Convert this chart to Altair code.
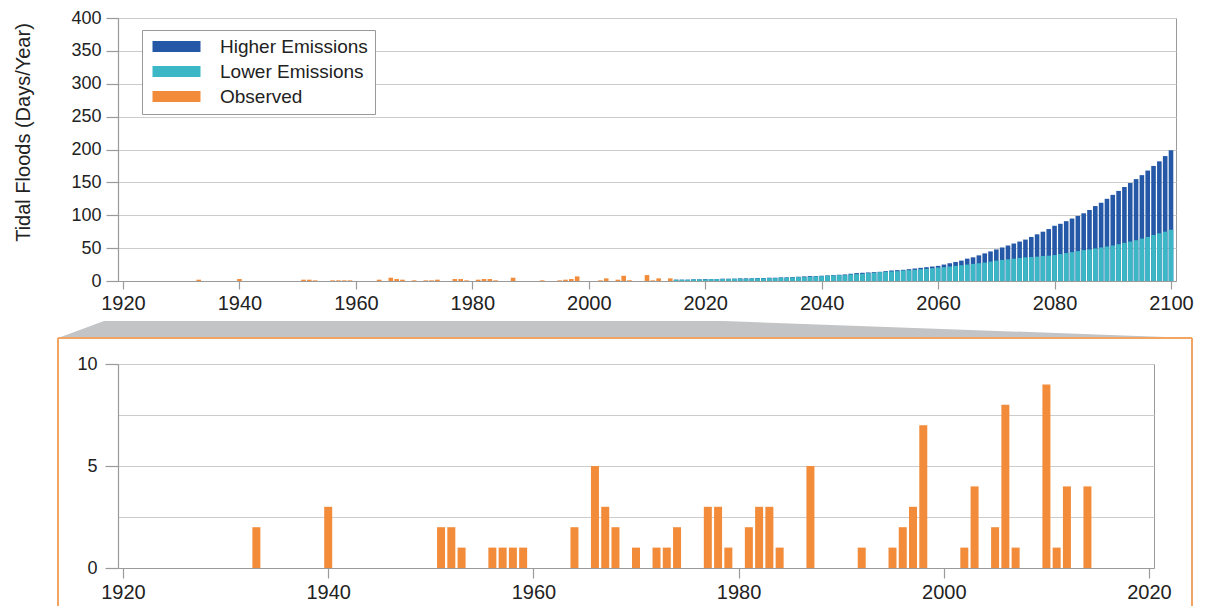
import altair as alt
import pandas as pd

# ---------------- data ----------------
obs_years = [1933, 1940, 1951, 1952, 1953, 1956, 1957, 1958, 1959, 1964,
             1966, 1967, 1968, 1970, 1972, 1973, 1974, 1977, 1978, 1979,
             1981, 1982, 1983, 1984, 1987, 1992, 1995, 1996, 1997, 1998,
             2002, 2003, 2005, 2006, 2007, 2010, 2011, 2012, 2014]
obs_days = [2, 3, 2, 2, 1, 1, 1, 1, 1, 2,
            5, 3, 2, 1, 1, 1, 2, 3, 3, 1,
            2, 3, 3, 1, 5, 1, 1, 2, 3, 7,
            1, 4, 2, 8, 1, 9, 1, 4, 4]

proj_years = list(range(2015, 2101))
higher_days = [2, 2, 2, 2.5, 2.5, 3, 3, 3, 3.5, 3.5,
               3.5, 4, 4, 4, 4.5, 4.5, 5, 5, 5.5, 5.5,
               6, 6.5, 7, 7.5, 7.5, 8, 8.5, 9, 9.5, 10,
               11, 12, 12.5, 13, 13.5, 14, 15, 16, 16.5, 17,
               18, 19, 20, 21, 22, 23, 25, 27, 29, 31,
               34, 36, 39, 42, 45, 48, 51, 54, 57, 60,
               63, 67, 71, 75, 79, 84, 87, 91, 95, 99,
               103, 108, 114, 119, 125, 131, 137, 143, 149, 155,
               161, 168, 175, 182, 190, 199]
lower_days = [2, 2, 2, 2.5, 2.5, 2.5, 3, 3, 3, 3,
              3.5, 3.5, 3.5, 4, 4, 4, 4.5, 4.5, 5, 5,
              5.5, 6, 6, 6.5, 7, 7.5, 8, 8.5, 9, 9,
              10, 10.5, 11, 12, 12.5, 13.5, 14, 14.5, 15, 16,
              16.5, 17, 18, 18.5, 19.5, 20.5, 21, 22, 23, 24,
              25, 26, 27, 28, 29.5, 31, 32, 33, 34, 35,
              36, 36.5, 37, 38, 38.5, 39.5, 41, 42.5, 44, 45.5,
              47, 48, 49.5, 51, 52.5, 54, 56, 58, 60, 62,
              64.5, 67, 70, 72.5, 75, 78]

series_names = ["Higher Emissions", "Lower Emissions", "Observed"]
series_colors = ["#2559a7", "#3bb7c5", "#f28c3a"]

top_x_ticks = list(range(1920, 2101, 20))
top_y_ticks = list(range(0, 401, 50))
bot_x_ticks = list(range(1920, 2021, 20))
bot_y_grid = [0, 2.5, 5, 7.5, 10]

# ---------------- geometry ----------------
TOP_W, TOP_H = 1058, 263
BOT_W, BOT_H = 1036, 204
CONN_TOP, BORDER_TOP = -43, -26
BORDER_L, BORDER_R, BORDER_B = -60, BOT_W + 38, 242

FONT = "Liberation Sans"
TXT = "#222222"
AX = "#9a9a9a"
GRID = "#cccccc"

# ---------------- top chart ----------------
top_df = pd.concat([
    pd.DataFrame({"year": proj_years, "days": higher_days, "series": series_names[0]}),
    pd.DataFrame({"year": proj_years, "days": lower_days, "series": series_names[1]}),
    pd.DataFrame({"year": obs_years, "days": obs_days, "series": series_names[2]}),
], ignore_index=True)

top = alt.Chart(top_df).mark_bar(size=4.6).encode(
    x=alt.X("year:Q", title=None,
            scale=alt.Scale(domain=[1920, 2100], nice=False, zero=False),
            axis=alt.Axis(values=top_x_ticks, format="d", grid=False, tickSize=8,
                          labelPadding=4, labelFontSize=20, labelFlush=False)),
    y=alt.Y("days:Q", stack=None, title="Tidal Floods (Days/Year)",
            scale=alt.Scale(domain=[0, 400], nice=False),
            axis=alt.Axis(values=top_y_ticks, grid=True, tickSize=12, labelPadding=5,
                          labelFontSize=18, titleFontSize=20, titleY=114,
                          titlePadding=37)),
    color=alt.Color("series:N",
                    scale=alt.Scale(domain=series_names, range=series_colors),
                    legend=alt.Legend(title=None, orient="none", legendX=24, legendY=12,
                                      fillColor="white", strokeColor="#999999",
                                      padding=7, labelFontSize=19, labelFont=FONT,
                                      labelColor=TXT,
                                      symbolType="M-1,-0.92H7V0.92H-1Z", symbolSize=144,
                                      symbolStrokeWidth=0, symbolOpacity=1,
                                      labelOffset=52, rowPadding=5)),
).properties(width=TOP_W, height=TOP_H)

# ---------------- bottom chart ----------------
obs_df = pd.DataFrame({"year": obs_years, "days": obs_days})

top_flat_end = (2023 - 1920) / (2100 - 1920) * TOP_W
conn_df = pd.DataFrame({
    "px": [BORDER_L, -14, top_flat_end, BORDER_R],
    "py": [BORDER_TOP, CONN_TOP, CONN_TOP, BORDER_TOP],
    "py2": [BORDER_TOP] * 4,
})
conn = alt.Chart(conn_df).mark_area(color="#c3c4c6").encode(
    x=alt.X("px:Q", scale=None, axis=None),
    y=alt.Y("py:Q", scale=None, axis=None),
    y2="py2:Q",
)

one = pd.DataFrame({"k": [0]})
b_top = alt.Chart(one).mark_rule(color="#f2a465", strokeWidth=2).encode(
    x=alt.value(BORDER_L), x2=alt.value(BORDER_R), y=alt.value(BORDER_TOP))
b_left = alt.Chart(one).mark_rule(color="#f2a465", strokeWidth=2).encode(
    x=alt.value(BORDER_L), y=alt.value(BORDER_TOP), y2=alt.value(BORDER_B))
b_right = alt.Chart(one).mark_rule(color="#f2a465", strokeWidth=2).encode(
    x=alt.value(BORDER_R), y=alt.value(BORDER_TOP), y2=alt.value(BORDER_B))

bars = alt.Chart(obs_df).mark_bar(size=8, color=series_colors[2]).encode(
    x=alt.X("year:Q", title=None,
            scale=alt.Scale(domain=[1920, 2020], nice=False, zero=False),
            axis=alt.Axis(values=bot_x_ticks, format="d", grid=False, tickSize=10,
                          labelPadding=4, labelFontSize=20, labelFlush=False)),
    y=alt.Y("days:Q", title=None,
            scale=alt.Scale(domain=[0, 10], nice=False),
            axis=alt.Axis(values=bot_y_grid, grid=True, tickSize=13, labelPadding=8,
                          labelFontSize=18,
                          labelExpr="datum.value % 5 == 0 ? datum.label : ''",
                          tickColor={"condition": {"test": "datum.value % 5 == 0", "value": AX},
                                     "value": "transparent"})),
)

bottom = alt.layer(conn, b_top, b_left, b_right, bars).resolve_scale(
    x="independent", y="independent"
).properties(width=BOT_W, height=BOT_H)

chart = alt.vconcat(top, bottom, spacing=6).properties(
    padding={"left": 5, "top": 0, "right": 5, "bottom": 0}
).configure(
    font=FONT,
).configure_view(
    stroke=AX, strokeWidth=1,
).configure_axis(
    labelFont=FONT, titleFont=FONT, labelColor=TXT, titleColor=TXT,
    titleFontWeight="normal", domainColor=AX, tickColor=AX, gridColor=GRID,
    domainWidth=1.2, tickWidth=1.2,
)

chart.save("out.html", embed_options={"renderer": "svg", "actions": False})
